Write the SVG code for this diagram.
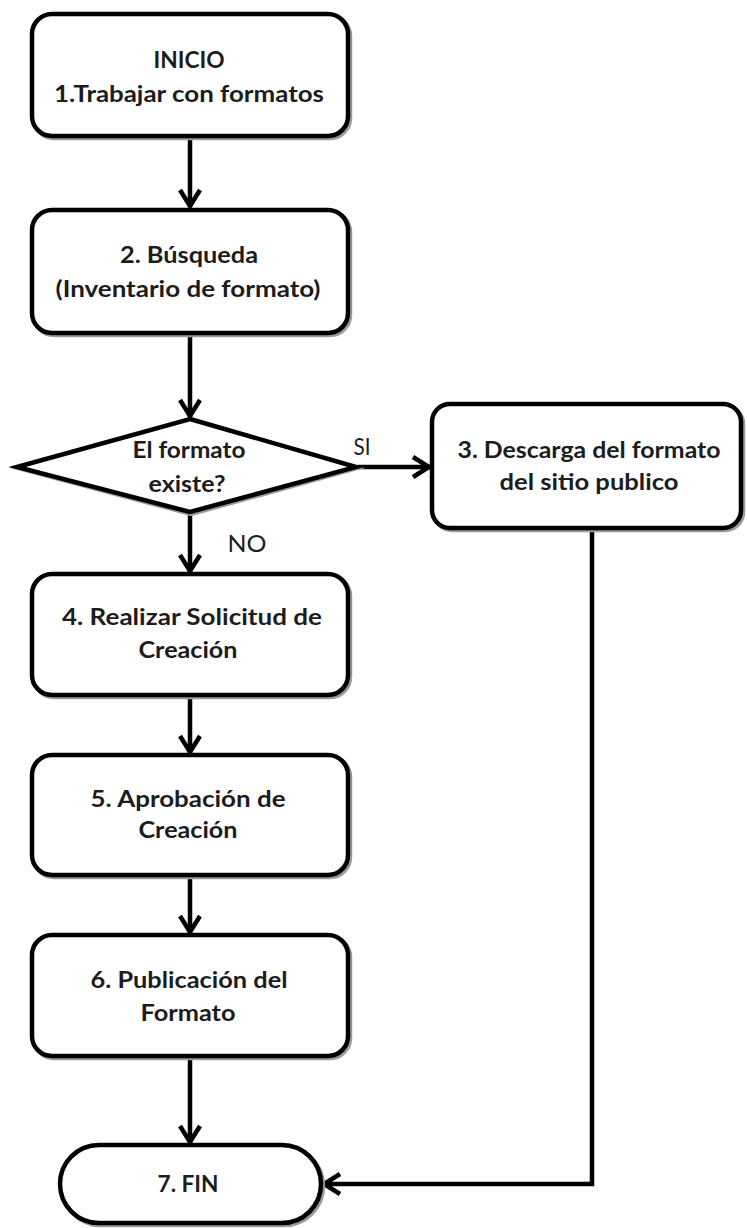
<svg xmlns="http://www.w3.org/2000/svg" width="747" height="1228" viewBox="0 0 747 1228">
<style>
.box{fill:#fff;stroke:#000;stroke-width:4.5}
.sh{fill:none;stroke:#9a9a9a;stroke-width:4.5}
.t{font-family:Lato,"Liberation Sans",sans-serif;font-size:22px;font-weight:700;fill:#1c1c1c;text-anchor:middle}
.l{font-family:Lato,"Liberation Sans",sans-serif;font-size:24px;font-weight:400;fill:#1c1c1c;text-anchor:middle}
.c{fill:none;stroke:#000;stroke-width:4.5}
</style>
<defs>
<marker id="ah" markerUnits="userSpaceOnUse" viewBox="0 0 22 26" refX="20" refY="13" markerWidth="22" markerHeight="26" orient="auto">
<path d="M3,3 L19,13 L3,23" fill="none" stroke="#000" stroke-width="4.5" stroke-linejoin="miter"/>
</marker>
</defs>
<rect width="747" height="1228" fill="#fff"/>
<g id="connectors">
<line class="c" x1="190" y1="138" x2="190" y2="207" marker-end="url(#ah)"/>
<line class="c" x1="190" y1="335" x2="190" y2="417" marker-end="url(#ah)"/>
<line class="c" x1="358" y1="467" x2="430" y2="467" stroke-width="5.5" marker-end="url(#ah)"/>
<line class="c" x1="190" y1="514" x2="190" y2="572" marker-end="url(#ah)"/>
<line class="c" x1="190" y1="697" x2="190" y2="753" marker-end="url(#ah)"/>
<line class="c" x1="190" y1="877" x2="190" y2="933" marker-end="url(#ah)"/>
<line class="c" x1="190" y1="1058" x2="190" y2="1143" marker-end="url(#ah)"/>
<path class="c" d="M592,530 V1184 H323" stroke-width="5" marker-end="url(#ah)"/>
<text class="l" x="362" y="455" textLength="17" lengthAdjust="spacingAndGlyphs">SI</text>
<text class="l" x="247" y="552" textLength="39" lengthAdjust="spacingAndGlyphs">NO</text>
</g>
<g id="n1">
<rect class="sh" x="34" y="16" width="316" height="122" rx="20"/>
<rect class="box" x="32" y="14" width="316" height="122" rx="20"/>
<text class="t" x="189" y="68" textLength="71" lengthAdjust="spacingAndGlyphs">INICIO</text>
<text class="t" x="189" y="102" textLength="270" lengthAdjust="spacingAndGlyphs">1.Trabajar con formatos</text>
</g>
<g id="n2">
<rect class="sh" x="34" y="212" width="316" height="123" rx="20"/>
<rect class="box" x="32" y="210" width="316" height="123" rx="20"/>
<text class="t" x="189" y="263" textLength="138" lengthAdjust="spacingAndGlyphs">2. Búsqueda</text>
<text class="t" x="188" y="297" textLength="265" lengthAdjust="spacingAndGlyphs">(Inventario de formato)</text>
</g>
<g id="d1">
<polygon class="sh" points="191,420 357,468 191,514 18,468"/>
<polygon class="box" points="190,419 356,467 190,512 17,467" stroke-width="5"/>
<text class="t" x="189" y="458" textLength="113" lengthAdjust="spacingAndGlyphs" font-weight="400">El formato</text>
<text class="t" x="187" y="492" textLength="77" lengthAdjust="spacingAndGlyphs" font-weight="400">existe?</text>
</g>
<g id="n3">
<rect class="sh" x="434" y="406" width="309" height="124" rx="18"/>
<rect class="box" x="432" y="404" width="309" height="124" rx="18"/>
<text class="t" x="589" y="458" textLength="263" lengthAdjust="spacingAndGlyphs">3. Descarga del formato</text>
<text class="t" x="589" y="490" textLength="179" lengthAdjust="spacingAndGlyphs">del sitio publico</text>
</g>
<g id="n4">
<rect class="sh" x="34" y="576" width="316" height="121" rx="20"/>
<rect class="box" x="32" y="574" width="316" height="121" rx="20"/>
<text class="t" x="192" y="625" textLength="260" lengthAdjust="spacingAndGlyphs">4. Realizar Solicitud de</text>
<text class="t" x="188" y="658" textLength="99" lengthAdjust="spacingAndGlyphs">Creación</text>
</g>
<g id="n5">
<rect class="sh" x="34" y="757" width="316" height="120" rx="20"/>
<rect class="box" x="32" y="755" width="316" height="120" rx="20"/>
<text class="t" x="188" y="807" textLength="195" lengthAdjust="spacingAndGlyphs">5.  Aprobación de</text>
<text class="t" x="188" y="838" textLength="99" lengthAdjust="spacingAndGlyphs">Creación</text>
</g>
<g id="n6">
<rect class="sh" x="34" y="937" width="316" height="121" rx="20"/>
<rect class="box" x="32" y="935" width="316" height="121" rx="20"/>
<text class="t" x="189" y="988" textLength="197" lengthAdjust="spacingAndGlyphs">6. Publicación del</text>
<text class="t" x="188" y="1021" textLength="95" lengthAdjust="spacingAndGlyphs">Formato</text>
</g>
<g id="n7">
<rect class="sh" x="62" y="1147" width="261" height="78" rx="39"/>
<rect class="box" x="60" y="1145" width="261" height="78" rx="39"/>
<text class="t" x="188" y="1192" textLength="61" lengthAdjust="spacingAndGlyphs" font-weight="400">7. FIN</text>
</g>
</svg>
